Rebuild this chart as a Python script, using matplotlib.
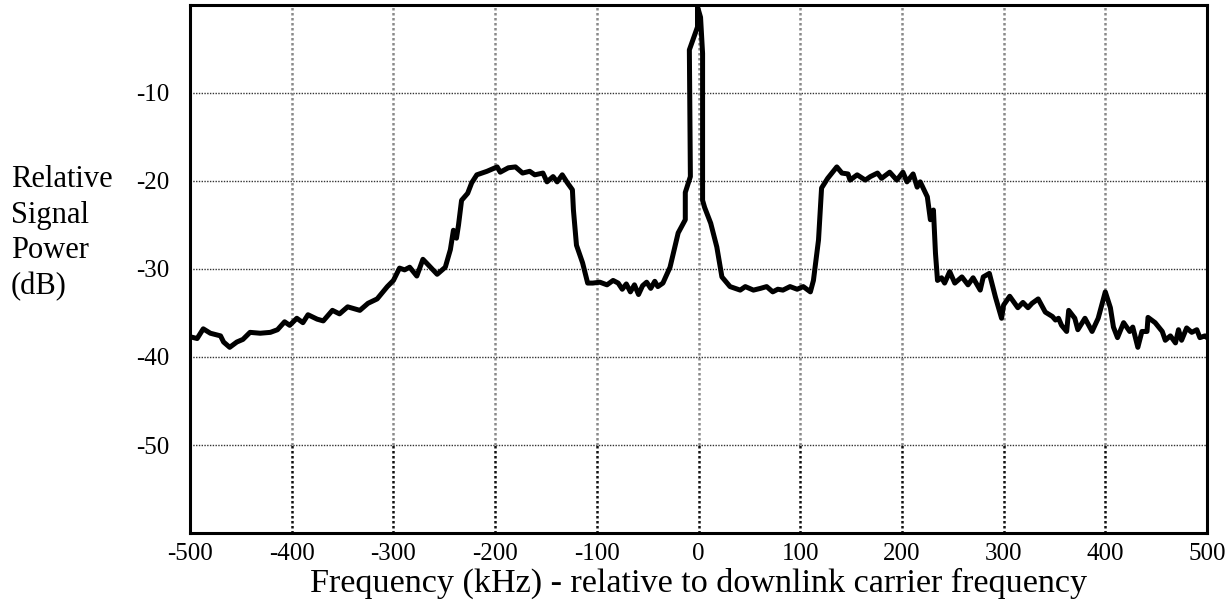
import matplotlib.pyplot as plt

# spectrum trace (kHz relative to carrier, dB)
freq_khz = [
    -500, -493, -487, -480, -470, -467, -461, -454, -448, -441, -431, -421,
    -414, -407, -402, -395, -389, -384, -375, -369, -360, -353, -345, -333,
    -325, -316, -306, -300, -294, -289, -284, -277, -271, -266, -257, -249,
    -244, -241, -238, -236, -233, -227, -223, -218, -208, -198, -195, -187,
    -180, -173, -166, -161, -153, -149, -143, -139, -134, -129, -124, -123,
    -120, -114, -109, -104, -97, -90, -84, -79, -75, -71, -67, -63, -59, -55,
    -51, -47, -43, -40, -35, -28, -20, -13, -13, -8, -9, -1, -1, 2, 4, 4, 6,
    12, 18, 23, 31, 41, 46, 54, 61, 67, 73, 78, 83, 90, 97, 103, 110, 113,
    118, 121, 127, 136, 141, 147, 149, 156, 164, 169, 176, 180, 188, 195,
    201, 205, 211, 215, 218, 225, 228, 231, 233, 235, 239, 242, 247, 252,
    259, 265, 270, 277, 280, 286, 292, 298, 300, 306, 314, 319, 324, 328,
    334, 341, 348, 351, 354, 357, 362, 364, 370, 373, 380, 387, 393, 400,
    405, 408, 412, 418, 424, 427, 432, 436, 441, 442, 449, 456, 459, 464,
    469, 472, 475, 480, 485, 490, 493, 498, 500,
]
power_db = [
    -37.7, -37.9, -36.8, -37.3, -37.6, -38.3, -38.9, -38.3, -38.0, -37.2,
    -37.3, -37.2, -36.9, -36.0, -36.4, -35.6, -36.1, -35.2, -35.7, -35.9,
    -34.7, -35.1, -34.3, -34.7, -33.9, -33.4, -32.0, -31.3, -29.9, -30.1,
    -29.8, -30.8, -28.9, -29.5, -30.6, -29.8, -27.8, -25.6, -26.5, -25.0,
    -22.2, -21.4, -20.2, -19.3, -18.9, -18.4, -19.0, -18.5, -18.4, -19.1,
    -18.9, -19.3, -19.1, -20.1, -19.5, -20.1, -19.3, -20.2, -21.0, -23.3,
    -27.3, -29.3, -31.6, -31.6, -31.5, -31.8, -31.3, -31.6, -32.3, -31.7,
    -32.6, -31.8, -32.9, -31.9, -31.5, -32.2, -31.4, -32.0, -31.6, -29.8,
    -25.9, -24.4, -21.3, -19.5, -5.1, -2.5, -0.2, -1.4, -5.5, -22.2, -23.0,
    -24.8, -27.5, -30.9, -32.0, -32.4, -32.0, -32.4, -32.2, -32.0, -32.6,
    -32.3, -32.4, -32.0, -32.3, -32.0, -32.6, -31.3, -26.7, -20.8, -19.7,
    -18.4, -19.1, -19.2, -19.9, -19.3, -19.9, -19.5, -19.1, -19.7, -19.0,
    -19.9, -19.0, -20.1, -19.2, -20.7, -20.1, -21.8, -24.4, -23.3, -28.2,
    -31.3, -31.0, -31.6, -30.3, -31.6, -30.9, -31.8, -31.0, -32.4, -30.9,
    -30.5, -33.2, -35.6, -34.1, -33.1, -34.4, -33.8, -34.4, -33.9, -33.4,
    -34.9, -35.4, -35.8, -35.6, -36.4, -37.1, -34.7, -35.6, -36.9, -35.6,
    -37.1, -35.6, -32.6, -34.4, -36.6, -37.8, -36.1, -37.1, -36.6, -38.9,
    -37.1, -37.1, -35.5, -36.1, -37.1, -38.1, -37.6, -38.4, -36.9, -38.1,
    -36.7, -37.2, -36.9, -37.8, -37.6, -37.8,
]

x_ticks = [-500, -400, -300, -200, -100, 0, 100, 200, 300, 400, 500]
y_ticks = [-10, -20, -30, -40, -50]

plt.rcParams['font.family'] = ['Liberation Serif', 'DejaVu Serif']

fig = plt.figure(figsize=(12.26, 6.07), dpi=100)
ax = fig.add_axes([0.155, 0.1219, 0.8295, 0.8699])

# grid: horizontal dotted, vertical grey above -50 and black below
ax.hlines(y_ticks, -500, 500, colors='#333333', linestyles=(0, (1, 1)), lw=1.0, zorder=1)
inner = x_ticks[1:-1]
ax.vlines(inner, -50, 0, colors='#8a8a8a', linestyles=(0, (1, 1)), lw=1.8, zorder=1)
ax.vlines(inner, -60, -50, colors='#111111', linestyles=(0, (1, 1)), lw=1.8, zorder=1)

ax.plot(freq_khz, power_db, color='black', lw=3.6, solid_joinstyle='round',
        solid_capstyle='round', zorder=3)

ax.set_xlim(-500, 500)
ax.set_ylim(-60, 0)
ax.set_xticks(x_ticks)
ax.set_xticklabels([str(v) for v in x_ticks])
ax.set_yticks(y_ticks)
ax.set_yticklabels([str(v) for v in y_ticks])
ax.tick_params(axis='both', length=0, labelsize=18)
ax.tick_params(axis='x', pad=7)
ax.tick_params(axis='y', pad=15)
for s in ax.spines.values():
    s.set_linewidth(2.2)
    s.set_color('black')

ax.set_xlabel('Frequency (kHz) - relative to downlink carrier frequency',
              fontsize=24.6, labelpad=2)
fig.text(11 / 1226, 1 - 165 / 607, 'Relative\nSignal\nPower\n(dB)',
         fontsize=22, ha='left', va='top', linespacing=1.3)

fig.savefig('out.png', dpi=100)
plt.close(fig)
